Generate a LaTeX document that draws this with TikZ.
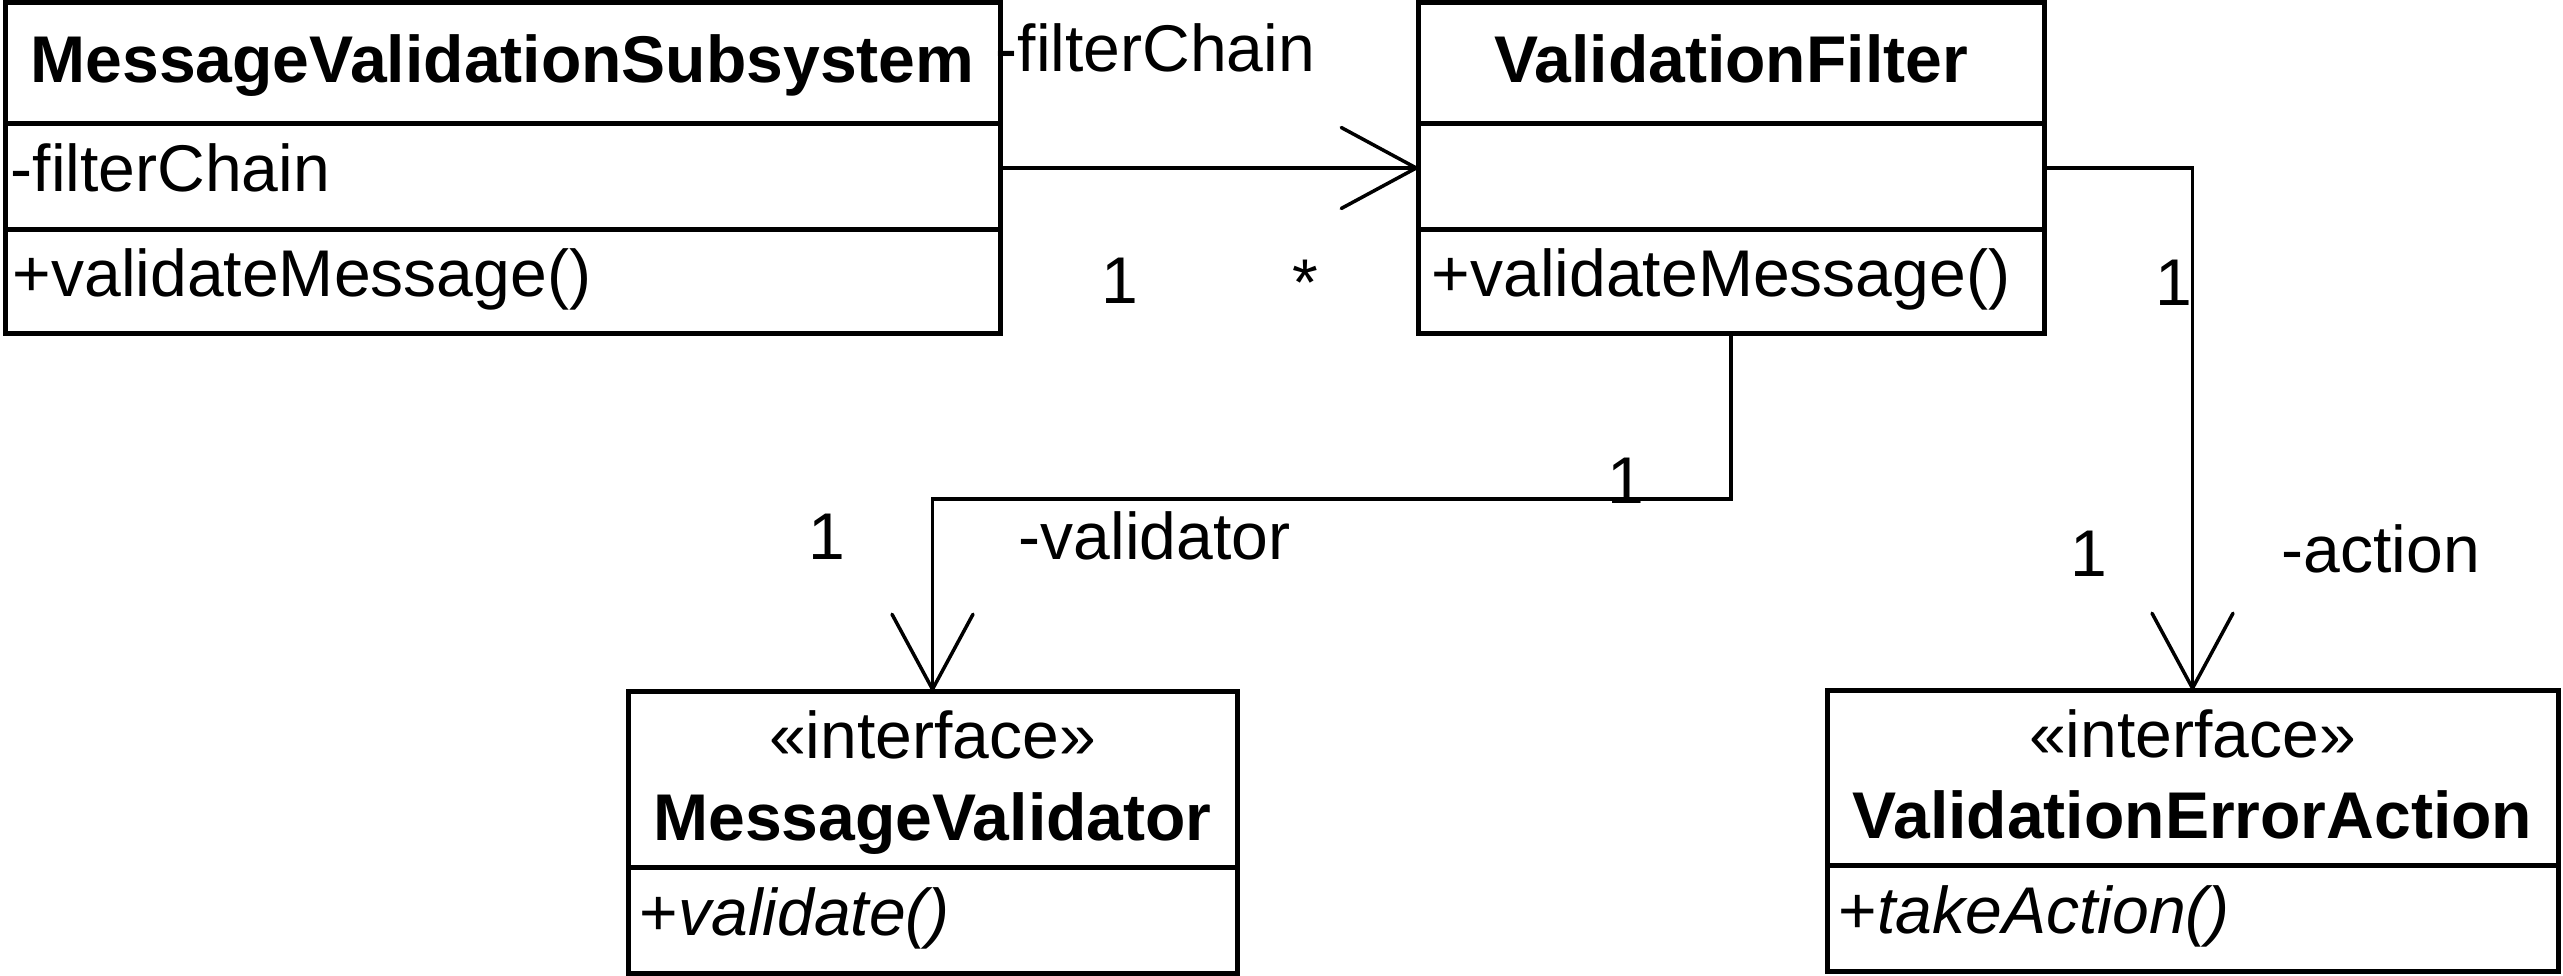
\documentclass[tikz,border=0pt]{standalone}
\usepackage{fontspec}
\setmainfont{Liberation Sans}
\usetikzlibrary{arrows.meta}

\begin{document}
\begin{tikzpicture}[
  classbox/.style={draw, line width=0.05cm, inner sep=0pt, outer sep=0pt, anchor=north west},
  divider/.style={line width=0.05cm},
  txt/.style={inner sep=0pt, font=\fontsize{18.8pt}{22pt}\selectfont},
  title/.style={txt, font=\fontsize{18.8pt}{22pt}\selectfont\bfseries, anchor=base},
  member/.style={txt, anchor=base west},
  lbl/.style={txt, anchor=base},
  assoc/.style={line width=0.035cm, -{Straight Barb[length=0.75cm, width=0.81cm, round]}}
]

\useasboundingbox (0,0) rectangle (25.63,-9.76);

% class boxes
\node[classbox, minimum width=9.95cm, minimum height=3.30cm] (mvs) at (0.05,-0.03) {};
\node[classbox, minimum width=6.26cm, minimum height=3.30cm] (vf) at (14.18,-0.03) {};
\node[classbox, minimum width=6.09cm, minimum height=2.82cm] (mv) at (6.28,-6.91) {};
\node[classbox, minimum width=7.31cm, minimum height=2.81cm] (vea) at (18.27,-6.90) {};

\draw [divider] (0.05,-1.24) -- (10.00,-1.24);
\draw [divider] (0.05,-2.30) -- (10.00,-2.30);
\draw [divider] (14.18,-1.24) -- (20.44,-1.24);
\draw [divider] (14.18,-2.30) -- (20.44,-2.30);
\draw [divider] (6.28,-8.67) -- (12.37,-8.67);
\draw [divider] (18.27,-8.65) -- (25.58,-8.65);

% class texts
\node[title] (mvsTitle) at (5.025,-0.83) {MessageValidationSubsystem};
\node[member] (mvsAttr) at (0.10,-1.92) {-filterChain};
\node[member] (mvsOp) at (0.12,-2.96) {+validateMessage()};

\node[title] (vfTitle) at (17.31,-0.83) {ValidationFilter};
\node[member] (vfOp) at (14.31,-2.97) {+validateMessage()};

\node[lbl] (mvStereo) at (9.325,-7.58) {«interface»};
\node[title] (mvTitle) at (9.325,-8.40) {MessageValidator};
\node[member] (mvOp) at (6.39,-9.35) {+\textit{validate()}};

\node[lbl] (veaStereo) at (21.925,-7.57) {«interface»};
\node[title] (veaTitle) at (21.925,-8.38) {ValidationErrorAction};
\node[member] (veaOp) at (18.38,-9.33) {+\textit{takeAction()}};

% associations
\draw [assoc] (mvs.east) -- (vf.west);
\draw [assoc] (vf.east) -| (vea.north);
\draw [assoc] (vf.south) -- ++(0,-1.66) -| (mv.north);

% role names and multiplicities
\node[member] (chainRole) at (9.95,-0.72) {-filterChain};
\node[lbl] (chainSrc) at (11.20,-3.04) {1};
\node[lbl] (chainDst) at (13.05,-3.06) {*};

\node[lbl] (actionSrc) at (21.735,-3.05) {1};
\node[lbl] (actionDst) at (20.885,-5.76) {1};
\node[member] (actionRole) at (22.81,-5.72) {-action};

\node[lbl] (validatorSrc) at (16.255,-5.03) {1};
\node[lbl] (validatorDst) at (8.27,-5.59) {1};
\node[member] (validatorRole) at (10.18,-5.59) {-validator};

\end{tikzpicture}
\end{document}
